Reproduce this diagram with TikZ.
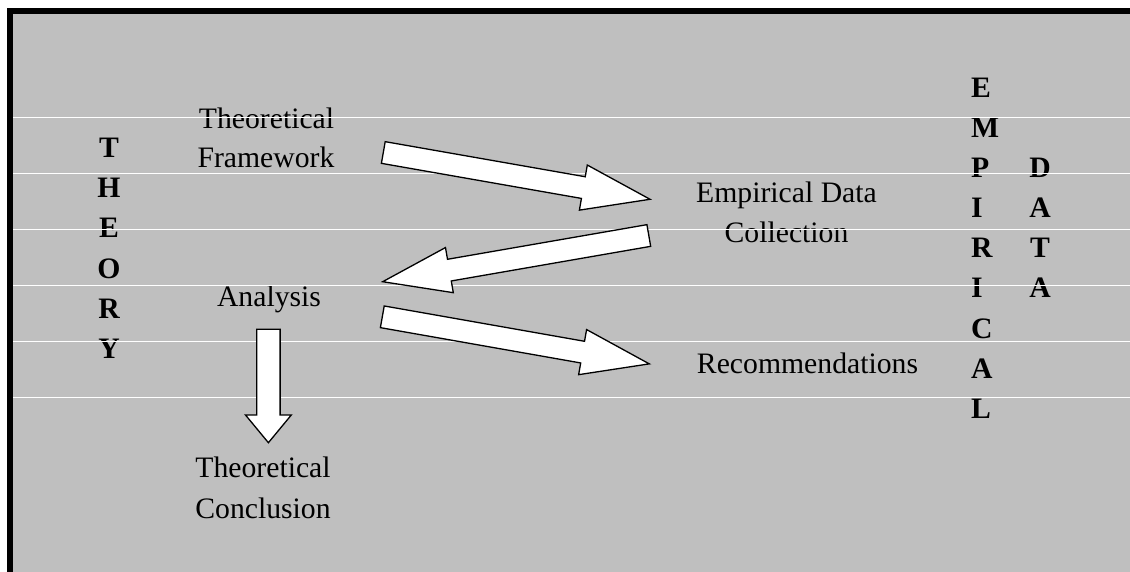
\documentclass[tikz,border=0pt]{standalone}
\usepackage{fontspec}
\setmainfont{Liberation Serif}
\begin{document}
\begin{tikzpicture}[x=1pt,y=-1pt,
  lbl/.style={inner sep=0pt,anchor=base,font=\fontsize{29.7}{40}\selectfont},
  vlet/.style={inner sep=0pt,anchor=base,font=\fontsize{29.7}{40}\selectfont\bfseries},
  vletw/.style={vlet,anchor=base west},
  rule/.style={white,line width=1.2pt},
  blockarrow/.style={fill=white,draw=black,line width=1.3pt,line join=miter}]
\useasboundingbox (0,0) rectangle (1130,572);
% panel with heavy top and left edges
\fill[white] (0,0) rectangle (1130,572);
\fill[black] (7,8) rectangle (1130,14);
\fill[black] (7,8) rectangle (13,572);
\fill[black!25] (13,14) rectangle (1130,572);

% stacked letters on the left
\foreach \ch [count=\i from 0] in {T,H,E,O,R,Y}
  \node[vlet] (th\i) at (109,158+40*\i) {\ch};
% stacked letters on the right
\foreach \ch [count=\i from 0] in {E,M,P,I,R,I,C,A,L}
  \node[vletw] (em\i) at (971,98+40*\i) {\ch};
\foreach \ch [count=\i from 0] in {D,A,T,A}
  \node[vlet] (da\i) at (1040,178+40*\i) {\ch};

% step labels
\node[lbl] (tf1) at (266.5,128.3) {Theoretical};
\node[lbl] (tf2) at (266,167.7) {Framework};
\node[lbl] (ed1) at (786.5,202.7) {Empirical Data};
\node[lbl] (ed2) at (786.5,242.7) {Collection};
\node[lbl] (an)  at (269,306.7) {Analysis};
\node[lbl] (rc)  at (807.5,373.3) {Recommendations};
\node[lbl] (tc1) at (263,477.3) {Theoretical};
\node[lbl] (tc2) at (263,518.3) {Conclusion};

% horizontal rules
\foreach \yy in {117.5,173.5,229.5,285.5,341.5,397.5}
  \draw[rule] (13,\yy) -- (1130,\yy);

% block arrows: tail centre, direction, length
\draw[blockarrow,shift={(383.3,152.5)},rotate=-9.95]
  (0,-11) -- (203.1,-11) -- (203.1,-22.9) -- (270.8,0) -- (203.1,22.9) -- (203.1,11) -- (0,11) -- cycle;
\draw[blockarrow,shift={(648.8,235.5)},rotate=189.85]
  (0,-11) -- (202.4,-11) -- (202.4,-22.9) -- (270.1,0) -- (202.4,22.9) -- (202.4,11) -- (0,11) -- cycle;
\draw[blockarrow,shift={(382.3,316.8)},rotate=-10.0]
  (0,-11) -- (203.4,-11) -- (203.4,-22.9) -- (271.1,0) -- (203.4,22.9) -- (203.4,11) -- (0,11) -- cycle;
\draw[blockarrow,shift={(268.4,329.3)},rotate=-90]
  (0,-11.7) -- (85.7,-11.7) -- (85.7,-22.9) -- (113.4,0) -- (85.7,22.9) -- (85.7,11.7) -- (0,11.7) -- cycle;
\end{tikzpicture}
\end{document}
